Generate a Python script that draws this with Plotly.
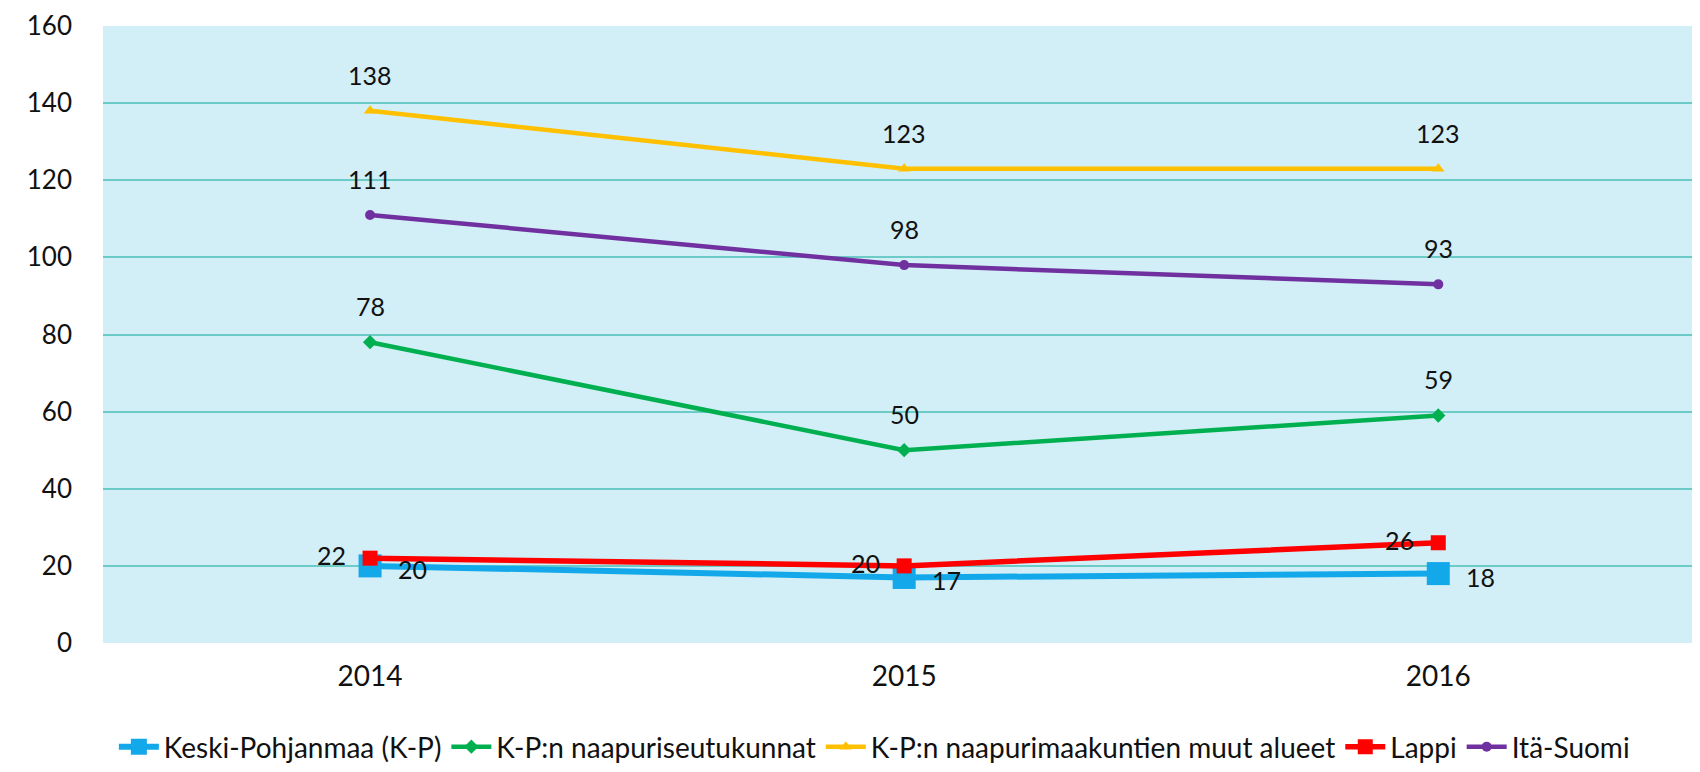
import plotly.graph_objects as go

years = ["2014", "2015", "2016"]

keski_pohjanmaa = [20, 17, 18]
naapuriseutukunnat = [78, 50, 59]
naapurimaakunnat_muut = [138, 123, 123]
lappi = [22, 20, 26]
ita_suomi = [111, 98, 93]

y_ticks = [0, 20, 40, 60, 80, 100, 120, 140, 160]

FONT = "Lato"
TEXT = "#111111"

# name, values, colour, marker symbol, marker size, line width, label side
series = [
    ("Keski-Pohjanmaa (K-P)", keski_pohjanmaa, "#12a8ea", "square", 23, 6, "right"),
    ("K-P:n naapuriseutukunnat", naapuriseutukunnat, "#00b050", "diamond", 11, 4.5, "top"),
    ("K-P:n naapurimaakuntien muut alueet", naapurimaakunnat_muut, "#ffc000", "triangle-up", 11, 4.5, "top"),
    ("Lappi", lappi, "#ff0000", "square", 15, 5.5, "left"),
    ("Itä-Suomi", ita_suomi, "#7030a0", "circle", 10, 4.5, "top"),
]

fig = go.Figure()
for name, vals, color, symbol, msize, lw, side in series:
    fig.add_trace(
        go.Scatter(
            x=years,
            y=vals,
            name=name,
            mode="lines+markers",
            line=dict(color=color, width=lw),
            marker=dict(symbol=symbol, size=msize, color=color),
            cliponaxis=False,
        )
    )
    # data labels, Excel-style offsets (x given as category index)
    for i, v in enumerate(vals):
        if side == "top":
            xs, ys = 0, 36
        elif side == "right":
            xs, ys = 42, -3
        else:
            xs, ys = -39, 3
        fig.add_annotation(
            x=i, y=v, text=str(v), showarrow=False,
            xshift=xs, yshift=ys,
            font=dict(family=FONT, size=25, color=TEXT),
        )

# page body adds an 8px margin, so the figure is sized to compensate
fig.update_layout(
    width=1692,
    height=764,
    margin=dict(l=95, r=0, t=18, b=117),
    paper_bgcolor="white",
    plot_bgcolor="#d2eef6",
    font=dict(family=FONT, size=25, color=TEXT),
    showlegend=True,
    legend=dict(
        orientation="h",
        x=0.483,
        xanchor="center",
        y=-0.128,
        yanchor="top",
        font=dict(family=FONT, size=28, color=TEXT),
        itemwidth=40,
        tracegroupgap=0,
    ),
)
fig.update_xaxes(
    type="category",
    range=[-0.5, 2.49],
    showgrid=False,
    ticks="",
    tickfont=dict(family=FONT, size=28),
    ticklabelstandoff=14,
    automargin=False,
)
fig.update_yaxes(
    range=[0, 160],
    tickvals=y_ticks,
    showgrid=True,
    gridcolor="#6ccbc6",
    gridwidth=2,
    zeroline=False,
    ticks="",
    tickfont=dict(family=FONT, size=26),
    ticklabelstandoff=30,
    automargin=False,
)

fig.write_html("out.html")
